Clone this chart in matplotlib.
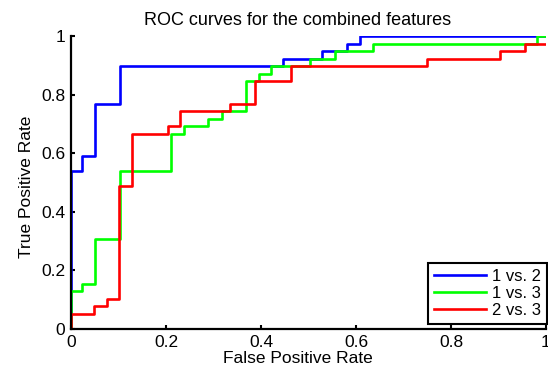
import matplotlib
matplotlib.use('agg')
import matplotlib.pyplot as plt

plt.rcParams['font.family'] = ['Liberation Sans', 'DejaVu Sans']

# ROC corner points (fpr where the curve steps up, tpr after the step)
fpr_12 = [0, 0, 0.023, 0.05, 0.103, 0.446, 0.528, 0.58, 0.608, 1.0]
tpr_12 = [0, 0.538, 0.590, 0.769, 0.897, 0.923, 0.949, 0.974, 1.0, 1.0]

fpr_13 = [0, 0, 0.023, 0.05, 0.103, 0.21, 0.238, 0.289, 0.318, 0.368, 0.395,
          0.422, 0.503, 0.556, 0.636, 0.98, 1.0]
tpr_13 = [0, 0.128, 0.154, 0.308, 0.538, 0.667, 0.692, 0.718, 0.744, 0.846, 0.872,
          0.897, 0.923, 0.949, 0.974, 1.0, 1.0]

fpr_23 = [0, 0, 0.048, 0.075, 0.1, 0.128, 0.205, 0.229, 0.335, 0.387, 0.464,
          0.749, 0.903, 0.956, 1.0]
tpr_23 = [0, 0.051, 0.077, 0.103, 0.487, 0.667, 0.692, 0.744, 0.769, 0.846, 0.897,
          0.923, 0.949, 0.974, 0.974]

labels = ["1 vs. 2", "1 vs. 3", "2 vs. 3"]
ticks = [0, 0.2, 0.4, 0.6, 0.8, 1]
tick_labels = ["0", "0.2", "0.4", "0.6", "0.8", "1"]

W, H = 548, 368
fig = plt.figure(figsize=(W / 100, H / 100), dpi=100)
ax = fig.add_axes([71 / W, 1 - 329 / H, 475 / W, 293 / H])

lw = 1.9
ax.plot(fpr_12, tpr_12, drawstyle='steps-post', color=(0, 0, 1), lw=lw, label=labels[0])
ax.plot(fpr_13, tpr_13, drawstyle='steps-post', color=(0, 1, 0), lw=lw, label=labels[1])
ax.plot(fpr_23, tpr_23, drawstyle='steps-post', color=(1, 0, 0), lw=lw, label=labels[2])

ax.set_xlim(0, 1)
ax.set_ylim(0, 1)
ax.set_xticks(ticks)
ax.set_xticklabels(tick_labels)
ax.set_yticks(ticks)
ax.set_yticklabels(tick_labels)
ax.tick_params(direction='in', length=3, width=1.5, labelsize=12.5)
ax.tick_params(axis='x', pad=4)
ax.tick_params(axis='y', pad=4)

for s in ['top', 'right']:
    ax.spines[s].set_visible(False)
for s in ['left', 'bottom']:
    ax.spines[s].set_linewidth(1.6)

ax.set_xlabel("False Positive Rate", fontsize=12.5, labelpad=1)
ax.xaxis.label.set_x((297.5 - 71) / 475)
ax.set_ylabel("True Positive Rate", fontsize=12.5, labelpad=5)
ax.yaxis.label.set_y((329 - 187) / 293)
ax.set_title("ROC curves for the combined features", fontsize=13, pad=8,
             x=(298 - 71) / 475)

leg = ax.legend(loc='lower right', fontsize=12, fancybox=False, framealpha=1,
                edgecolor='black', handlelength=3.1, borderaxespad=0,
                bbox_to_anchor=(547 / W, 1 - 324 / H), bbox_transform=fig.transFigure,
                labelspacing=0.12, handletextpad=0.4, borderpad=0.35)
leg.get_frame().set_linewidth(1.5)

plt.savefig("out.png", dpi=100)
